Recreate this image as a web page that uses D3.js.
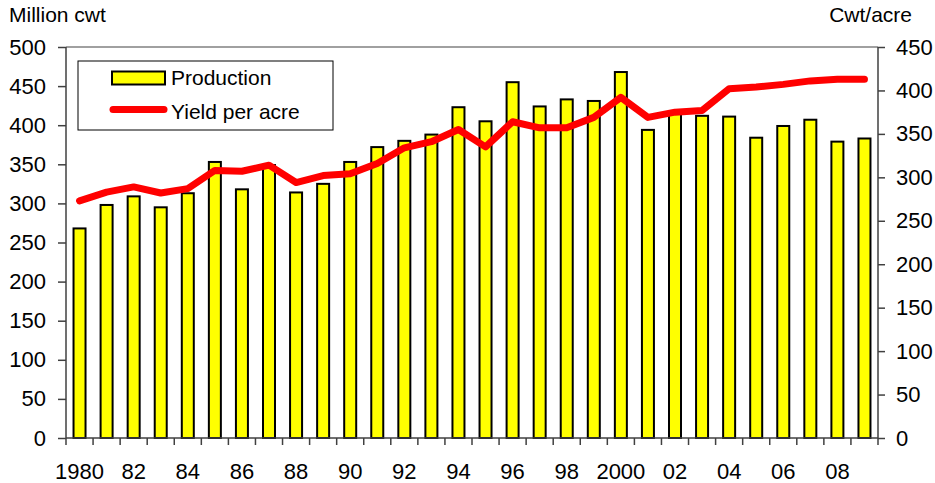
<!DOCTYPE html>
<html>
<head>
<meta charset="utf-8">
<script src="https://cdn.jsdelivr.net/npm/d3@7"></script>
<style>
  body { margin: 0; background: #fff; }
  svg { font-family: "Liberation Sans", Arial, sans-serif; }
</style>
</head>
<body>
<script>
// data
var years = d3.range(1980, 2010);
var production = [268, 298, 309, 295, 313, 353, 318, 349, 314, 325,
                  353, 372, 380, 388, 423, 405, 455, 424, 433, 431,
                  468, 394, 416, 412, 411, 384, 399, 407, 379, 383];
var yieldPerAcre = [273, 283, 289, 282, 287, 308, 307, 314, 294, 302,
                    304, 316, 334, 341, 355, 335, 364, 357, 357, 369,
                    392, 369, 375, 377, 402, 404, 407, 411, 413, 413];
var leftTicks = d3.range(0, 501, 50);
var rightTicks = d3.range(0, 451, 50);
var yearLabels = years.map(function(y) {
  if (y % 2) return "";
  if (y == 1980) return "1980";
  if (y == 2000) return "2000";
  return String(y).slice(2);
});

var w = 935, h = 483;
var plotL = 66, plotR = 878, plotT = 47, plotB = 438;

var svg = d3.select("body").append("svg")
  .attr("width", w)
  .attr("height", h);

var x = d3.scaleBand().domain(years).range([plotL, plotR]).paddingInner(0).paddingOuter(0);
var yL = d3.scaleLinear().domain([0, 500]).range([plotB, plotT]);
var yR = d3.scaleLinear().domain([0, 450]).range([plotB, plotT]);

// top border
svg.append("line")
  .attr("x1", plotL).attr("x2", plotR)
  .attr("y1", plotT).attr("y2", plotT)
  .attr("stroke", "#808080").attr("stroke-width", 1.5);

// bars
var barW = 12;
svg.selectAll("rect.bar")
  .data(production)
  .enter()
  .append("rect")
  .attr("class", "bar")
  .attr("x", function(d, i) { return x(years[i]) + x.bandwidth() / 2 - barW / 2; })
  .attr("y", function(d) { return yL(d); })
  .attr("width", barW)
  .attr("height", function(d) { return plotB - yL(d); })
  .attr("fill", "#ffff00")
  .attr("stroke", "#000")
  .attr("stroke-width", 2);

// yield line
var line = d3.line()
  .x(function(d, i) { return x(years[i]) + x.bandwidth() / 2; })
  .y(function(d) { return yR(d); });

svg.append("path")
  .datum(yieldPerAcre)
  .attr("d", line)
  .attr("fill", "none")
  .attr("stroke", "#ff0000")
  .attr("stroke-width", 7)
  .attr("stroke-linecap", "round")
  .attr("stroke-linejoin", "round");

// left axis
var gL = svg.append("g")
  .attr("transform", "translate(" + plotL + ",0)")
  .call(d3.axisLeft(yL).tickValues(leftTicks).tickSize(8).tickPadding(12));

// right axis
var gR = svg.append("g")
  .attr("transform", "translate(" + plotR + ",0)")
  .call(d3.axisRight(yR).tickValues(rightTicks).tickSize(7).tickPadding(11));

// x axis: ticks at band edges, labels at band centres
var gX = svg.append("g")
  .attr("transform", "translate(0," + plotB + ")")
  .call(d3.axisBottom(x).tickValues(years).tickSize(0).tickPadding(25)
    .tickFormat(function(d, i) { return yearLabels[i]; }));

gX.selectAll(".edge")
  .data(years.concat([2010]))
  .enter()
  .append("line")
  .attr("class", "edge")
  .attr("x1", function(d, i) { return plotL + i * x.bandwidth(); })
  .attr("x2", function(d, i) { return plotL + i * x.bandwidth(); })
  .attr("y1", 0).attr("y2", 7)
  .attr("stroke", "#404040").attr("stroke-width", 1.5);

[gL, gR, gX].forEach(function(g) {
  g.select(".domain").attr("stroke", "#404040").attr("stroke-width", 1.5);
  g.selectAll(".tick line").attr("stroke", "#404040").attr("stroke-width", 1.5);
  g.selectAll("text").attr("font-size", "22px").attr("fill", "#000")
    .attr("font-family", "Liberation Sans, Arial, sans-serif");
});
gL.select(".domain").attr("d", "M0," + plotB + "V" + plotT);
gR.select(".domain").attr("d", "M0," + plotB + "V" + plotT);
gX.select(".domain").attr("d", "M" + plotL + ",0H" + plotR);

// axis titles
svg.append("text")
  .attr("x", 9).attr("y", 22)
  .attr("font-size", "21px")
  .text("Million cwt");

svg.append("text")
  .attr("x", 912).attr("y", 22)
  .attr("text-anchor", "end")
  .attr("font-size", "21px")
  .text("Cwt/acre");

// legend
var lg = svg.append("g");
lg.append("rect")
  .attr("x", 78).attr("y", 61)
  .attr("width", 255).attr("height", 69)
  .attr("fill", "#fff")
  .attr("stroke", "#000").attr("stroke-width", 1);
lg.append("rect")
  .attr("x", 112).attr("y", 71.5)
  .attr("width", 53).attr("height", 13)
  .attr("fill", "#ffff00")
  .attr("stroke", "#000").attr("stroke-width", 2);
lg.append("text")
  .attr("x", 171).attr("y", 85)
  .attr("font-size", "21px")
  .text("Production");
lg.append("line")
  .attr("x1", 113).attr("x2", 164)
  .attr("y1", 109.5).attr("y2", 109.5)
  .attr("stroke", "#ff0000").attr("stroke-width", 7)
  .attr("stroke-linecap", "round");
lg.append("text")
  .attr("x", 171).attr("y", 119)
  .attr("font-size", "21px")
  .text("Yield per acre");
</script>
</body>
</html>
